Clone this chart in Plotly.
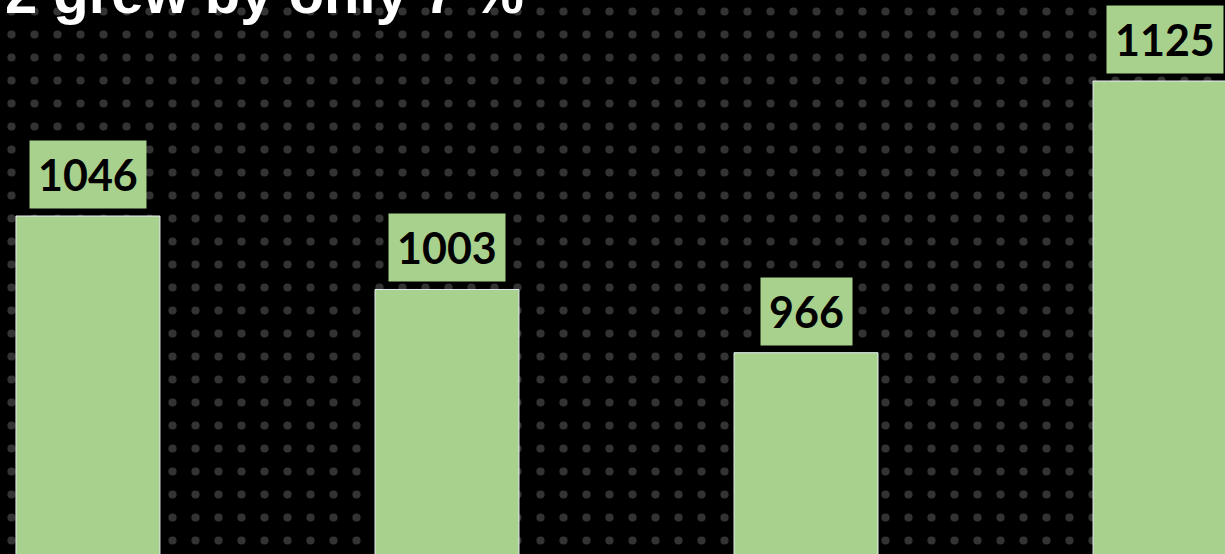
import plotly.graph_objects as go

categories = ["2019", "2020", "2021", "2022"]
values = [1046, 1003, 966, 1125]
title_text = "2 grew by only 7 %"

bar_color = "#a9d18e"

fig = go.Figure()

# dotted background texture (decoration spanning the whole plot area)
fig.add_trace(go.Bar(
    x=[0.5], y=[1], width=[1], xaxis="x", yaxis="y",
    marker=dict(color="#000000", line=dict(width=0),
                pattern=dict(shape=".", size=23, solidity=0.1,
                             fgcolor="#333333", bgcolor="#000000", fillmode="replace")),
    hoverinfo="skip",
))

fig.add_trace(go.Bar(
    x=categories, y=values, xaxis="x2", yaxis="y2",
    width=0.401,
    marker=dict(color=bar_color, line=dict(color="#e6eef5", width=1)),
    hoverinfo="skip",
))

for i, v in enumerate(values):
    fig.add_annotation(
        x=i, y=v, xref="x2", yref="y2",
        text="<b>%d</b>" % v,
        showarrow=False, yanchor="bottom",
        yshift=7,
        bgcolor=bar_color, borderpad=8,
        font=dict(family="Lato", size=43, color="#000000"),
    )

fig.add_annotation(
    x=0, y=1, xref="paper", yref="paper",
    xanchor="left", yanchor="top", yshift=42, xshift=3,
    text="<b>%s</b>" % title_text, showarrow=False,
    font=dict(family="Liberation Sans", size=58, color="#ffffff"),
)

fig.update_layout(
    width=1225, height=554,
    margin=dict(l=0, r=0, t=0, b=0),
    paper_bgcolor="#000000", plot_bgcolor="#000000",
    showlegend=False,
    xaxis=dict(range=[0, 1], visible=False, fixedrange=True),
    yaxis=dict(range=[0, 1], visible=False, fixedrange=True),
    xaxis2=dict(type="category", range=[-0.245, 3.167], visible=False, overlaying="x"),
    yaxis2=dict(range=[848.2, 1172.4], visible=False, overlaying="y"),
)

fig.write_html("out.html", config={"displayModeBar": False},
               post_script="document.body.style.margin='0';document.body.style.background='#000';")
